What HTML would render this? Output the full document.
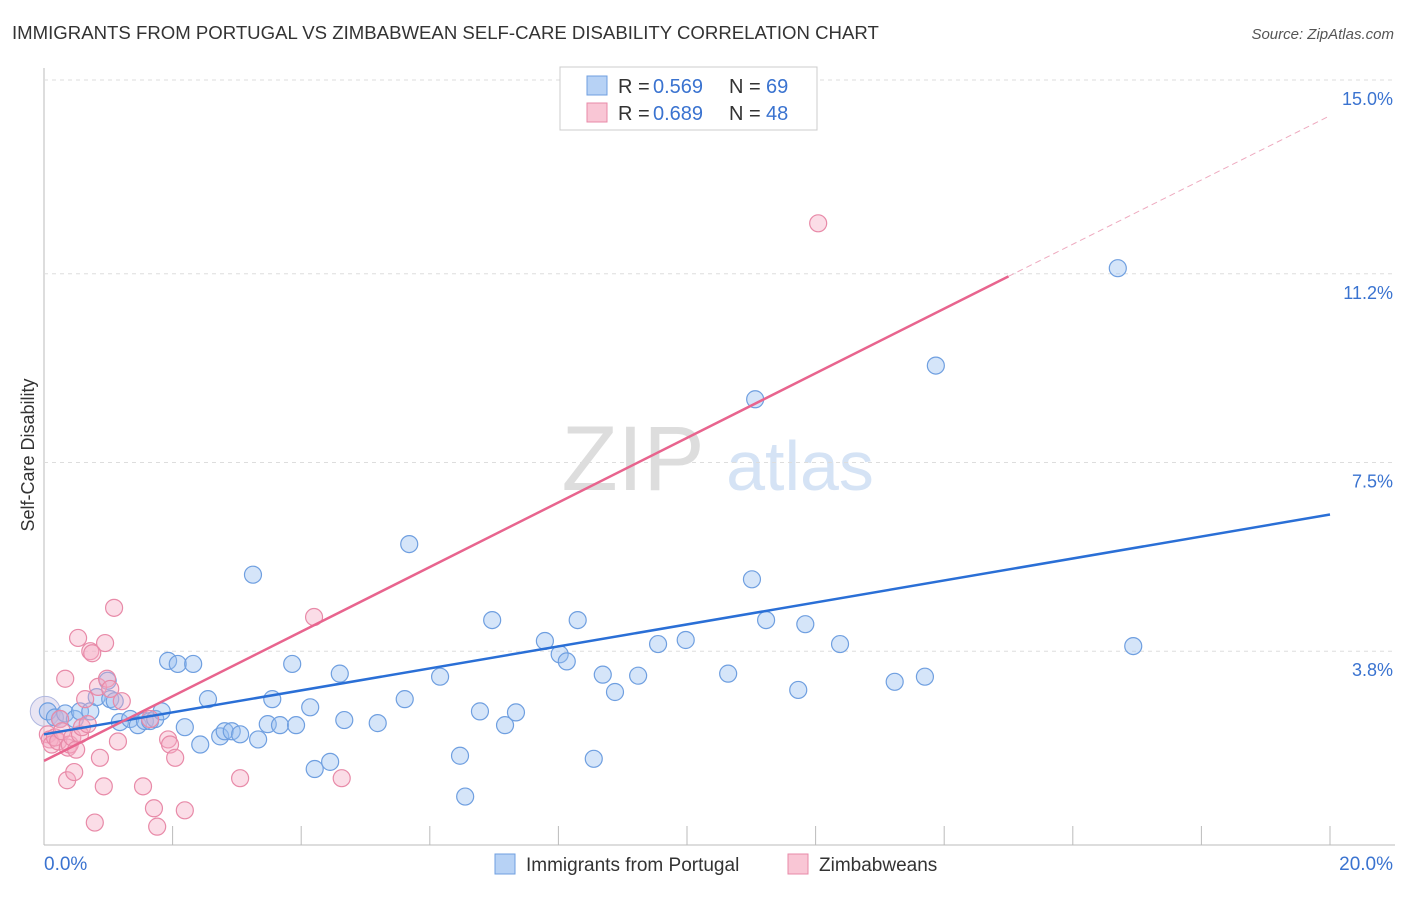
<!DOCTYPE html>
<html><head><meta charset="utf-8"><style>
body{margin:0;background:#fff;font-family:"Liberation Sans",sans-serif}
svg text{font-family:"Liberation Sans",sans-serif}
</style></head><body>
<svg id="c" width="1406" height="892">
<text x="12" y="39" font-size="18.6" fill="#333">IMMIGRANTS FROM PORTUGAL VS ZIMBABWEAN SELF-CARE DISABILITY CORRELATION CHART</text>
<text x="1394" y="39" font-size="15" fill="#555" text-anchor="end" font-style="italic">Source: ZipAtlas.com</text>
<text x="34" y="455" font-size="18" fill="#333" text-anchor="middle" transform="rotate(-90 34 455)">Self-Care Disability</text>
<text x="633" y="490" font-size="92" fill="#ddd" text-anchor="middle" font-family="Liberation Serif">ZIP</text>
<text x="800" y="490" font-size="70" fill="#d5e3f5" text-anchor="middle">atlas</text>
<g id="grid"></g><g id="pts"></g><g id="lines"></g>
<g>
<rect x="560" y="67" width="257" height="63" fill="#fff" stroke="#ccc"/>
<rect x="587" y="76" width="20" height="19" fill="#b7d2f5" stroke="#6f9fe0"/>
<rect x="587" y="103" width="20" height="19" fill="#f9c6d5" stroke="#e88aa8"/>
<text x="618" y="93" font-size="20" fill="#333">R = </text><text x="653" y="93" font-size="20" fill="#3a73d0">0.569</text>
<text x="729" y="93" font-size="20" fill="#333">N = </text><text x="766" y="93" font-size="20" fill="#3a73d0">69</text>
<text x="618" y="120" font-size="20" fill="#333">R = </text><text x="653" y="120" font-size="20" fill="#3a73d0">0.689</text>
<text x="729" y="120" font-size="20" fill="#333">N = </text><text x="766" y="120" font-size="20" fill="#3a73d0">48</text>
</g>
<g>
<rect x="495" y="854" width="20" height="20" fill="#b7d2f5" stroke="#6f9fe0"/>
<text x="526" y="871" font-size="19" fill="#333">Immigrants from Portugal</text>
<rect x="788" y="854" width="20" height="20" fill="#f9c6d5" stroke="#e88aa8"/>
<text x="819" y="871" font-size="19" fill="#333">Zimbabweans</text>
</g>
</svg>
<script>
const yTicks=[3.8,7.5,11.2,15.0];
const yTickLabels=["3.8%","7.5%","11.2%","15.0%"];
const xTickLabels=["0.0%","20.0%"];
const blueX=[0.06,0.17,0.25,0.33,0.48,0.56,0.72,0.82,0.99,1.03,1.10,1.18,1.34,1.46,1.57,1.65,1.73,1.83,1.93,2.08,2.19,2.32,2.43,2.55,2.74,2.81,2.92,3.05,3.33,3.25,3.48,3.55,3.67,3.86,3.92,4.14,4.21,4.45,4.60,4.67,5.19,5.61,5.68,6.16,6.47,6.55,6.78,6.97,7.17,7.34,7.79,8.02,8.13,8.30,8.55,8.69,8.88,9.24,9.55,9.98,10.64,11.01,11.06,11.23,11.73,11.84,12.38,13.23,13.70,13.87,16.70,16.94];
const blueY=[2.62,2.50,2.47,2.58,2.47,2.62,2.62,2.90,3.22,2.86,2.82,2.41,2.47,2.35,2.43,2.43,2.47,2.62,3.61,3.55,2.31,3.55,1.97,2.86,2.13,2.23,2.23,2.17,2.07,5.30,2.37,2.86,2.35,3.55,2.35,2.70,1.49,1.63,3.36,2.45,2.39,2.86,5.90,3.30,1.75,0.95,2.62,4.41,2.35,2.60,4.00,3.74,3.60,4.41,1.69,3.34,3.00,3.32,3.94,4.02,3.36,5.21,8.74,4.41,3.04,4.33,3.94,3.20,3.30,9.40,11.31,3.90];
const pinkX=[0.06,0.09,0.12,0.17,0.22,0.25,0.28,0.33,0.36,0.37,0.40,0.44,0.47,0.50,0.53,0.56,0.59,0.64,0.68,0.72,0.75,0.79,0.84,0.87,0.93,0.95,0.98,1.03,1.09,1.15,1.21,1.54,1.65,1.71,1.76,1.93,1.96,2.04,2.19,3.05,4.20,4.63,12.04];
const pinkY=[2.17,2.07,1.97,2.11,2.03,2.47,2.23,3.26,1.27,1.91,1.97,2.11,1.43,1.87,4.06,2.17,2.31,2.86,2.37,3.80,3.76,0.44,3.10,1.71,1.15,3.96,3.26,3.06,4.65,2.03,2.82,1.15,2.47,0.72,0.36,2.07,1.97,1.71,0.68,1.31,4.47,1.31,12.19];
const blueFit=[2.17,6.48], pinkFit=[1.65,11.15], pinkDashEnd=[15,14.3];
const X0=44,X1=1330,Y0=845,PPY=51;
const xs=v=>X0+v/20*(X1-X0), ys=v=>Y0-v*PPY;
const NS="http://www.w3.org/2000/svg";
function mk(tag,attrs,parent){const e=document.createElementNS(NS,tag);for(const k in attrs)e.setAttribute(k,attrs[k]);parent.appendChild(e);return e;}
const grid=document.getElementById('grid'),pts=document.getElementById('pts'),lines=document.getElementById('lines');
let ax=mk('line',{x1:X0,y1:68,x2:X0,y2:Y0,stroke:'#bbb'},grid);


let bx=mk('line',{x1:X0,y1:Y0,x2:1395,y2:Y0,stroke:'#bbb'},grid);


for(let i=1;i<=10;i++){const t=mk('line',{x1:xs(i*2),y1:826,x2:xs(i*2),y2:Y0,stroke:'#bbb'},grid);

}
yTicks.forEach((v,i)=>{const g=mk('line',{x1:X0,y1:ys(v),x2:1395,y2:ys(v),stroke:'#ddd','stroke-dasharray':'4,4'},grid);


const t=mk('text',{x:1393,y:ys(v)+25,'font-size':18,fill:'#3a73d0','text-anchor':'end'},grid);t.textContent=yTickLabels[i];

});
const xl0=mk('text',{x:44,y:870,'font-size':19,fill:'#3a73d0'},grid);xl0.textContent=xTickLabels[0];


const xl1=mk('text',{x:1393,y:870,'font-size':19,fill:'#3a73d0','text-anchor':'end'},grid);xl1.textContent=xTickLabels[1];


const big=mk('circle',{cx:xs(0.02),cy:ys(2.62),r:15,fill:'rgba(200,190,225,0.4)',stroke:'#b0b8e0'},pts);


blueX.forEach((v,i)=>{const c=mk('circle',{cx:xs(v),cy:ys(blueY[i]),r:8.5,fill:'rgba(150,190,240,0.4)',stroke:'#6f9fe0','stroke-width':1.2},pts);

});
pinkX.forEach((v,i)=>{const c=mk('circle',{cx:xs(v),cy:ys(pinkY[i]),r:8.5,fill:'rgba(245,170,195,0.4)',stroke:'#e88aa8','stroke-width':1.2},pts);

});
const bl=mk('line',{x1:xs(0),y1:ys(blueFit[0]),x2:xs(20),y2:ys(blueFit[1]),stroke:'#2a6fd6','stroke-width':2.5},lines);


const pl=mk('line',{x1:xs(0),y1:ys(pinkFit[0]),x2:xs(pinkDashEnd[0]),y2:ys(pinkFit[1]),stroke:'#e8648e','stroke-width':2.5},lines);


const pd=mk('line',{x1:xs(pinkDashEnd[0]),y1:ys(pinkFit[1]),x2:xs(20),y2:ys(pinkDashEnd[1]),stroke:'#eeaabf','stroke-width':1,'stroke-dasharray':'6,4'},lines);


</script>
</body></html>
